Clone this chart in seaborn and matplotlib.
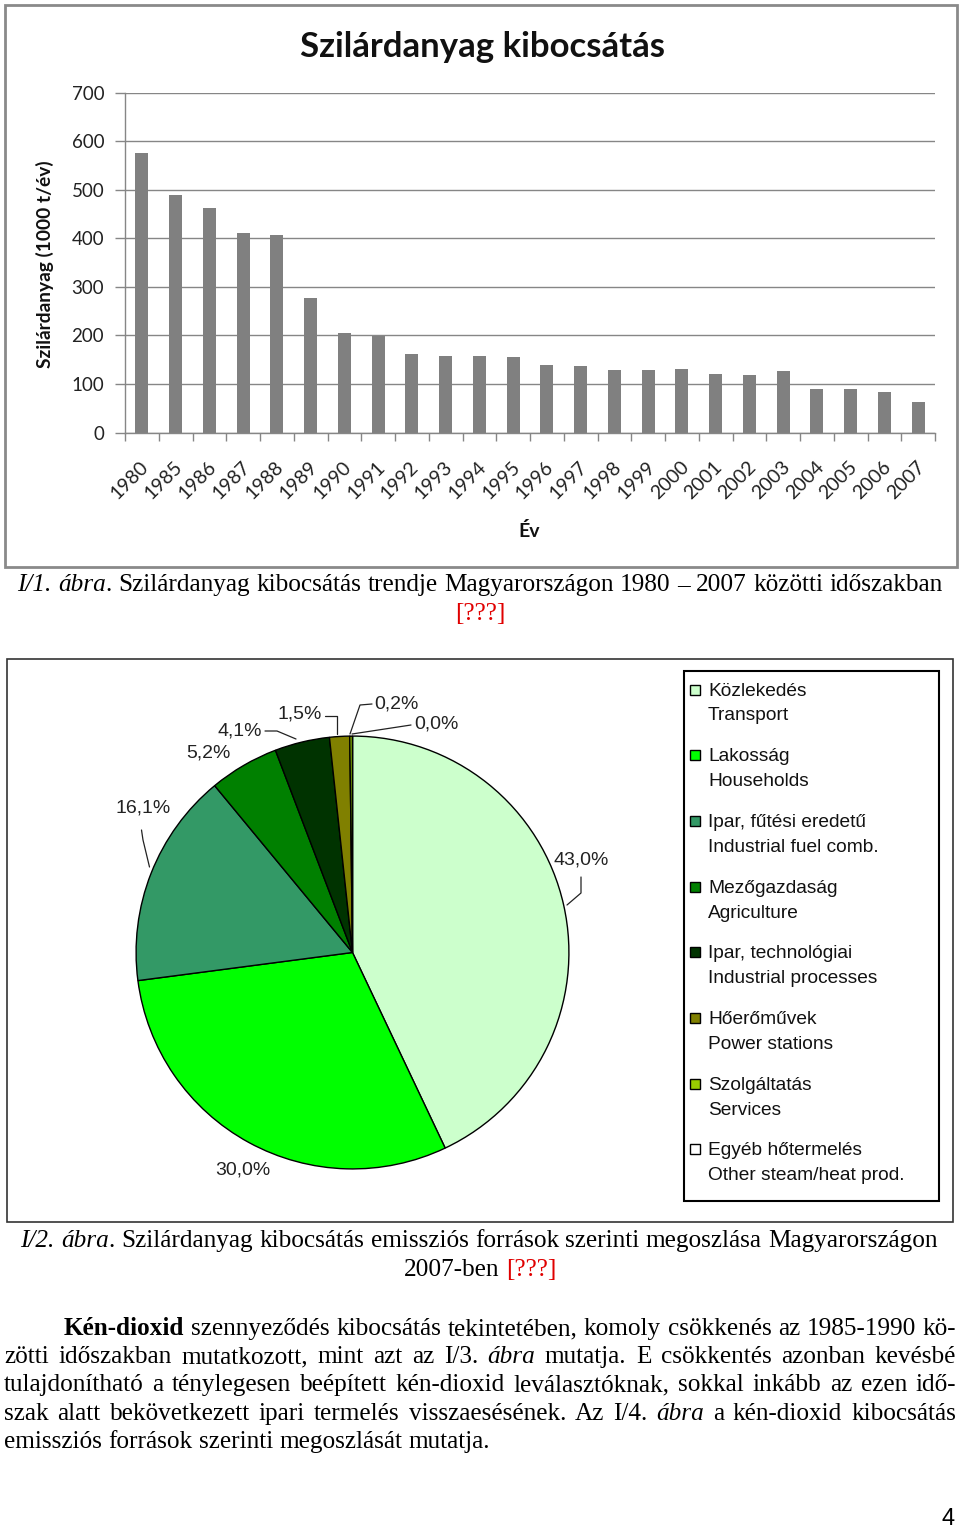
import numpy as np
import pandas as pd
import matplotlib
matplotlib.use("Agg")
import matplotlib.pyplot as plt
import matplotlib.transforms as mtransforms
import seaborn as sns
from matplotlib.patches import Rectangle
from matplotlib.lines import Line2D

# ---------------- data ----------------
years = ["1980", "1985", "1986", "1987", "1988", "1989", "1990", "1991", "1992",
         "1993", "1994", "1995", "1996", "1997", "1998", "1999", "2000", "2001",
         "2002", "2003", "2004", "2005", "2006", "2007"]
emission = [575, 490, 463, 411, 407, 277, 205, 199, 161, 157, 157, 155, 140, 136,
            128, 128, 130, 121, 119, 126, 90, 90, 84, 62]

sources_hu = ["Közlekedés", "Lakosság", "Ipar, fűtési eredetű", "Mezőgazdaság",
              "Ipar, technológiai", "Hőerőművek", "Szolgáltatás", "Egyéb hőtermelés"]
sources_en = ["Transport", "Households", "Industrial fuel comb.", "Agriculture",
              "Industrial processes", "Power stations", "Services",
              "Other steam/heat prod."]
shares = [43.0, 30.0, 16.1, 5.2, 4.1, 1.5, 0.2, 0.0]
share_labels = ["43,0%", "30,0%", "16,1%", "5,2%", "4,1%", "1,5%", "0,2%", "0,0%"]
pie_colors = ["#CCFFCC", "#00FF00", "#339966", "#008000", "#003300", "#808000",
              "#99CC00", "#FFFFFF"]

bar_title = "Szilárdanyag kibocsátás"
bar_ylabel = "Szilárdanyag (1000 t/év)"
bar_xlabel = "Év"
yticks = [0, 100, 200, 300, 400, 500, 600, 700]

caption1 = [[("I/1. ábra", "i"), (". Szilárdanyag kibocsátás trendje Magyarországon 1980 – 2007 közötti időszakban", "n")],
            [("[???]", "r")]]
caption2 = [[("I/2. ábra", "i"), (". Szilárdanyag kibocsátás emissziós források szerinti megoszlása Magyarországon", "n")],
            [("2007-ben ", "n"), ("[???]", "r")]]
paragraph = [
    [("Kén-dioxid", "b"), (" szennyeződés kibocsátás tekintetében, komoly csökkenés az 1985-1990 kö-", "n")],
    [("zötti időszakban mutatkozott, mint azt az I/3. ", "n"), ("ábra", "i"), (" mutatja. E csökkentés azonban kevésbé", "n")],
    [("tulajdonítható a ténylegesen beépített kén-dioxid leválasztóknak, sokkal inkább az ezen idő-", "n")],
    [("szak alatt bekövetkezett ipari termelés visszaesésének. Az I/4. ", "n"), ("ábra", "i"), (" a kén-dioxid kibocsátás", "n")],
    [("emissziós források szerinti megoszlását mutatja.", "n")],
]
page_number = "4"

# ---------------- figure ----------------
W, H = 960, 1529
sns.set_theme(style="white")
plt.rcParams["font.family"] = ["Lato", "DejaVu Sans"]
fig = plt.figure(figsize=(W / 100, H / 100), dpi=100)
fig.patch.set_facecolor("white")


def fig_rect(x0, y0, x1, y1):
    return [x0 / W, 1 - y1 / H, (x1 - x0) / W, (y1 - y0) / H]


# ---------------- bar chart ----------------
grid_c = "#868686"
ax1 = fig.add_axes(fig_rect(125, 92.5, 935, 432.5))
df = pd.DataFrame({"year": years, "value": emission})
sns.barplot(data=df, x="year", y="value", color="#808080", saturation=1,
            width=0.38, ax=ax1, edgecolor="none")
ax1.set_xlim(-0.5, len(years) - 0.5)
ax1.set_ylim(0, 700)
ax1.set_yticks(yticks)
ax1.set_yticklabels([str(v) for v in yticks], fontsize=13.5, color="#222222")
ax1.set_xlabel("")
ax1.set_ylabel("")
ax1.grid(axis="y", color=grid_c, lw=1)
ax1.grid(axis="x", visible=False)
ax1.set_axisbelow(True)
for s in ["top", "right"]:
    ax1.spines[s].set_visible(False)
for s in ["left", "bottom"]:
    ax1.spines[s].set_color(grid_c)
    ax1.spines[s].set_linewidth(1)
ax1.tick_params(axis="y", which="major", length=7, color=grid_c, width=1, pad=8,
                left=True)
ax1.set_xticks(range(len(years)))
ax1.set_xticks(np.arange(-0.5, len(years), 1), minor=True)
ax1.tick_params(axis="x", which="minor", length=6, color=grid_c, width=1, bottom=True)
ax1.tick_params(axis="x", which="major", length=0, pad=23)
ax1.set_xticklabels(years, rotation=45, ha="right", va="center",
                    rotation_mode="anchor", fontsize=14, color="#222222")
off = mtransforms.ScaledTranslation(4 / 100, 0, fig.dpi_scale_trans)
for lab in ax1.get_xticklabels():
    lab.set_transform(lab.get_transform() + off)

# ---------------- pie chart ----------------
ax2 = fig.add_axes(fig_rect(135, 735, 570, 1170))
ax2.pie(shares, colors=pie_colors, startangle=90, counterclock=False,
        wedgeprops=dict(edgecolor="black", linewidth=1.0))
ax2.set_xlim(-1.005, 1.005)
ax2.set_ylim(-1.005, 1.005)
ax2.set_aspect("equal")

# ---------------- overlay (pixel coordinates) ----------------
ov = fig.add_axes([0, 0, 1, 1])
ov.set_xlim(0, W)
ov.set_ylim(H, 0)
ov.set_axis_off()
ov.patch.set_visible(False)

# frames
ov.add_patch(Rectangle((5, 5), 952, 562, fill=False, ec="#8a8a8a", lw=2))
ov.add_patch(Rectangle((7, 659), 946, 563, fill=False, ec="#333333", lw=1.2))
ov.add_patch(Rectangle((684, 671), 255, 530, fill=False, ec="black", lw=1.5))

# bar chart texts
ov.text(482, 57, bar_title, ha="center", va="baseline", fontsize=25,
        fontweight="bold", color="#111111")
ov.text(45, 264, bar_ylabel, ha="center", va="center", rotation=90,
        fontsize=13.8, fontweight="bold", color="#111111")
ov.text(529, 531, bar_xlabel, ha="center", va="center", fontsize=14,
        fontweight="bold", color="#111111")

# pie labels
label_pos = [(581, 860), (243, 1170), (143, 808), (208, 753), (240, 731),
             (300, 714), (396, 704), (436, 724)]
for (x, y), lab in zip(label_pos, share_labels):
    ov.text(x, y, lab, ha="center", va="center", fontsize=14,
            family=["Liberation Sans"], color="#222222")
leaders = [
    [(581, 877), (581, 893), (567, 905)],
    [(141.5, 830), (143, 840), (149.5, 867)],
    [(265, 731), (277, 731), (296, 739)],
    [(325, 716), (337, 716), (337, 734)],
    [(372, 704), (360, 705), (350, 734)],
    [(411, 725), (352, 734)],
]
for pts in leaders:
    xs, ys = zip(*pts)
    ov.add_line(Line2D(xs, ys, color="#222222", lw=0.9))

# legend
leg_y0 = 689.5
leg_step = 65.7
for i, (hu, en, c) in enumerate(zip(sources_hu, sources_en, pie_colors)):
    yc = leg_y0 + i * leg_step
    ov.add_patch(Rectangle((690, yc - 5), 10, 10, fc=c, ec="black", lw=1))
    ov.text(708, yc + 6, hu, ha="left", va="baseline", fontsize=13.8,
            family=["Liberation Sans"], color="#111111")
    ov.text(708, yc + 31, en, ha="left", va="baseline", fontsize=13.8,
            family=["Liberation Sans"], color="#111111")

# ---------------- body text ----------------
renderer = fig.canvas.get_renderer()
FS_BASE = 16.0


def style_kw(st, fs):
    kw = dict(family=["Liberation Serif"], fontsize=fs, color="black")
    if st == "i":
        kw["style"] = "italic"
    if st == "b":
        kw["fontweight"] = "bold"
    if st == "r":
        kw["color"] = "#E00000"
    return kw


def measure(txt, st, fs):
    t = ov.text(0, 0, txt, **style_kw(st, fs))
    w = t.get_window_extent(renderer=renderer).width
    t.remove()
    return w


def parse(segs):
    words, cur = [], []
    for text, st in segs:
        parts = text.split(" ")
        for k, p in enumerate(parts):
            if k > 0 and cur:
                words.append(cur)
                cur = []
            if p:
                cur.append((p, st))
    if cur:
        words.append(cur)
    return words


def natural_width(segs, fs):
    words = parse(segs)
    sp = measure("a a", "n", fs) - measure("aa", "n", fs)
    return sum(measure(c, s, fs) for w in words for c, s in w) + sp * (len(words) - 1)


FS = FS_BASE * 924.0 / natural_width(caption1[0], FS_BASE)


def render_line(segs, y, mode, x0=None, x1=None, cx=None):
    words = parse(segs)
    widths = [[measure(c, s, FS) for c, s in w] for w in words]
    total = sum(sum(ws) for ws in widths)
    sp = measure("a a", "n", FS) - measure("aa", "n", FS)
    if mode == "justify" and len(words) > 1:
        gap = (x1 - x0 - total) / (len(words) - 1)
        x = x0
    elif mode == "center":
        gap = sp
        x = cx - (total + gap * (len(words) - 1)) / 2
    else:
        gap = sp
        x = x0
    for w, ws in zip(words, widths):
        for (c, s), cw in zip(w, ws):
            ov.text(x, y, c, ha="left", va="baseline", **style_kw(s, FS))
            x += cw
        x += gap


render_line(caption1[0], 591, "center", cx=480)
render_line(caption1[1], 620, "center", cx=480)
render_line(caption2[0], 1247, "center", cx=479)
render_line(caption2[1], 1276, "center", cx=480)

para_base = [1335, 1363.2, 1391.4, 1419.6, 1447.8]
for i, (segs, yb) in enumerate(zip(paragraph, para_base)):
    x0 = 64 if i == 0 else 4
    mode = "justify" if i < len(paragraph) - 1 else "left"
    render_line(segs, yb, mode, x0=x0, x1=956)

ov.text(948.5, 1525, page_number, ha="center", va="baseline", fontsize=17,
        family=["Liberation Sans"], color="black")

fig.savefig("out.png", dpi=100, facecolor="white")
